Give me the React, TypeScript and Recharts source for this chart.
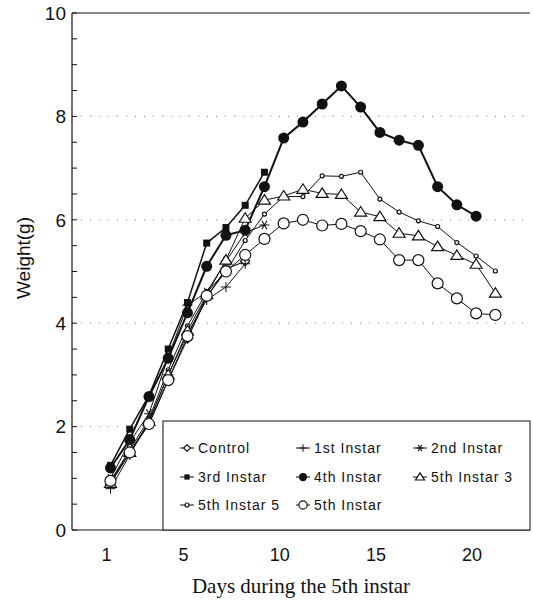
import React from "react";
import { LineChart, Line, XAxis, YAxis, ReferenceLine } from "recharts";

// days 1..21
const days = [1, 2, 3, 4, 5, 6, 7, 8, 9, 10, 11, 12, 13, 14, 15, 16, 17, 18, 19, 20, 21];

const control = [0.9, 1.5, 2.05, 2.9, 3.7, 4.5, 5.05, 5.2];
const first = [0.8, 1.45, 2.1, 3.0, 3.8, 4.45, 4.7, 5.15];
const second = [1.0, 1.7, 2.25, 3.35, 4.35, 4.6, 5.2, 5.75, 5.9];
const third = [1.25, 1.95, 2.6, 3.5, 4.4, 5.55, 5.85, 6.28, 6.92];
const fourth = [1.2, 1.75, 2.58, 3.32, 4.2, 5.1, 5.7, 5.8, 6.64, 7.58, 7.89, 8.24, 8.59, 8.18, 7.69, 7.54, 7.44, 6.64, 6.29, 6.07];
const fifth3 = [0.9, 1.5, 2.1, 3.0, 3.85, 4.55, 5.22, 6.03, 6.38, 6.46, 6.59, 6.51, 6.49, 6.15, 6.06, 5.74, 5.69, 5.48, 5.31, 5.14, 4.58];
const fifth5 = [0.95, 1.55, 2.15, 3.1, 3.95, 4.6, 5.0, 5.6, 6.11, 6.45, 6.45, 6.85, 6.84, 6.92, 6.4, 6.15, 5.98, 5.87, 5.56, 5.3, 5.01];
const fifth = [0.95, 1.5, 2.05, 2.9, 3.75, 4.53, 5.0, 5.32, 5.63, 5.93, 6.0, 5.89, 5.92, 5.78, 5.62, 5.22, 5.22, 4.77, 4.48, 4.19, 4.16];

const xTicks = [1, 5, 10, 15, 20];
const yTicks = [0, 0.5, 1, 1.5, 2, 2.5, 3, 3.5, 4, 4.5, 5, 5.5, 6, 6.5, 7, 7.5, 8, 8.5, 9, 9.5, 10];
const gridValues = [2, 4, 6, 8];

type Kind = "diamond" | "plus" | "star" | "square" | "disc" | "triangle" | "dot" | "circle";

const series: { key: string; name: string; values: number[]; kind: Kind; width: number }[] = [
  { key: "control", name: "Control", values: control, kind: "diamond", width: 1.1 },
  { key: "first", name: "1st Instar", values: first, kind: "plus", width: 1 },
  { key: "second", name: "2nd Instar", values: second, kind: "star", width: 1 },
  { key: "third", name: "3rd Instar", values: third, kind: "square", width: 1.5 },
  { key: "fifth5", name: "5th Instar 5", values: fifth5, kind: "dot", width: 1 },
  { key: "fifth3", name: "5th Instar 3", values: fifth3, kind: "triangle", width: 1 },
  { key: "fifth", name: "5th Instar", values: fifth, kind: "circle", width: 1 },
  { key: "fourth", name: "4th Instar", values: fourth, kind: "disc", width: 2 },
];

const legendOrder = ["control", "first", "second", "third", "fourth", "fifth3", "fifth5", "fifth"];

const data = days.map((d, i) => {
  const row: Record<string, number | null> = { day: d };
  series.forEach((s) => {
    row[s.key] = i < s.values.length ? s.values[i] : null;
  });
  return row;
});

const INK = "#111";
const SANS = "'Liberation Sans', Arial, sans-serif";

function marker(kind: Kind, cx: number, cy: number, key?: string, k = 1) {
  const a = 4.5 * k;
  const r = 5.5 * k;
  switch (kind) {
    case "diamond":
      return <path key={key} d={`M${cx},${cy - a}L${cx + a},${cy}L${cx},${cy + a}L${cx - a},${cy}Z`} fill="#fff" stroke={INK} strokeWidth={1.2} />;
    case "plus":
      return <path key={key} d={`M${cx - 5 * k},${cy}H${cx + 5 * k}M${cx},${cy - 5 * k}V${cy + 5 * k}`} stroke={INK} strokeWidth={1} fill="none" />;
    case "star":
      return (
        <path
          key={key}
          d={`M${cx - 5 * k},${cy}H${cx + 5 * k}M${cx - 2.5 * k},${cy - 4.3 * k}L${cx + 2.5 * k},${cy + 4.3 * k}M${cx + 2.5 * k},${cy - 4.3 * k}L${cx - 2.5 * k},${cy + 4.3 * k}`}
          stroke={INK}
          strokeWidth={1.1}
          fill="none"
        />
      );
    case "square":
      return <rect key={key} x={cx - 3.5 * k} y={cy - 3.5 * k} width={7 * k} height={7 * k} fill={INK} />;
    case "disc":
      return <circle key={key} cx={cx} cy={cy} r={r} fill={INK} />;
    case "triangle":
      return <path key={key} d={`M${cx},${cy - r}L${cx + 6 * k},${cy + 4 * k}L${cx - 6 * k},${cy + 4 * k}Z`} fill="#fff" stroke={INK} strokeWidth={1.2} />;
    case "dot":
      return <circle key={key} cx={cx} cy={cy} r={2} fill="#fff" stroke={INK} strokeWidth={1.2} />;
    case "circle":
      return <circle key={key} cx={cx} cy={cy} r={r} fill="#fff" stroke={INK} strokeWidth={1.2} />;
  }
}

const legendCols = [187, 303, 420];
const legendRows = [448, 477, 505];

function LegendBox() {
  return (
    <svg width={533} height={602} style={{ position: "absolute", left: 0, top: 0, pointerEvents: "none" }}>
      <rect x={163} y={421} width={367} height={109} fill="#fff" stroke={INK} strokeWidth={1} />
      {legendOrder.map((key, i) => {
        const s = series.find((x) => x.key === key)!;
        const cx = legendCols[i % 3];
        const cy = legendRows[Math.floor(i / 3)];
        return (
          <g key={key}>
            <line x1={cx - 7} x2={cx + 7} y1={cy} y2={cy} stroke={INK} strokeWidth={1} />
            {marker(s.kind, cx, cy, undefined, 0.75)}
            <text x={cx + 11} y={cy + 5} fontSize={14} letterSpacing={1} fontFamily={SANS} fill={INK}>
              {s.name}
            </text>
          </g>
        );
      })}
    </svg>
  );
}

export default function App() {
  return (
    <div style={{ position: "absolute", left: 0, top: 0, width: 533, height: 602, background: "#fff" }}>
      <LineChart width={533} height={602} data={data} margin={{ top: 13, right: 3, left: 0, bottom: 0 }}>
        <XAxis
          dataKey="day"
          type="number"
          domain={[-1, 22.8]}
          ticks={xTicks}
          tickLine={false}
          axisLine={{ stroke: INK, strokeWidth: 1.2 }}
          height={72}
          tickMargin={12}
          tick={{ fill: INK, fontSize: 18, fontFamily: SANS, dx: -4 }}
          label={{
            value: "Days during the 5th instar",
            position: "insideBottom",
            offset: 9,
            fill: INK,
            fontSize: 21,
            fontFamily: "'Liberation Serif', 'Times New Roman', serif",
          }}
        />
        <YAxis
          type="number"
          domain={[0, 10]}
          ticks={yTicks}
          interval={0}
          width={72}
          tickSize={-5}
          tickMargin={11}
          tickLine={{ stroke: INK }}
          axisLine={{ stroke: INK, strokeWidth: 1.2 }}
          tickFormatter={(v: number) => (v % 2 === 0 ? String(v) : "")}
          tick={{ fill: INK, fontSize: 19, fontFamily: SANS }}
          label={{
            content: () => (
              <text transform="rotate(-90)" x={-258} y={30} textAnchor="middle" fontSize={19} fontFamily={SANS} fill={INK}>
                Weight(g)
              </text>
            ),
          }}
        />
        {gridValues.map((v) => (
          <ReferenceLine key={v} y={v} stroke="#888" strokeDasharray="1 8" />
        ))}
        <ReferenceLine y={10} stroke={INK} strokeWidth={1.2} />
        {series.map((s) => (
          <Line
            key={s.key}
            dataKey={s.key}
            name={s.name}
            stroke={INK}
            strokeWidth={s.width}
            isAnimationActive={false}
            connectNulls={false}
            dot={(p: any) =>
              p.cx == null || p.cy == null || p.value == null ? (
                <g key={`${s.key}-${p.index}`} />
              ) : (
                marker(s.kind, p.cx, p.cy, `${s.key}-${p.index}`)
              )
            }
            activeDot={false}
          />
        ))}
      </LineChart>
      <LegendBox />
    </div>
  );
}
